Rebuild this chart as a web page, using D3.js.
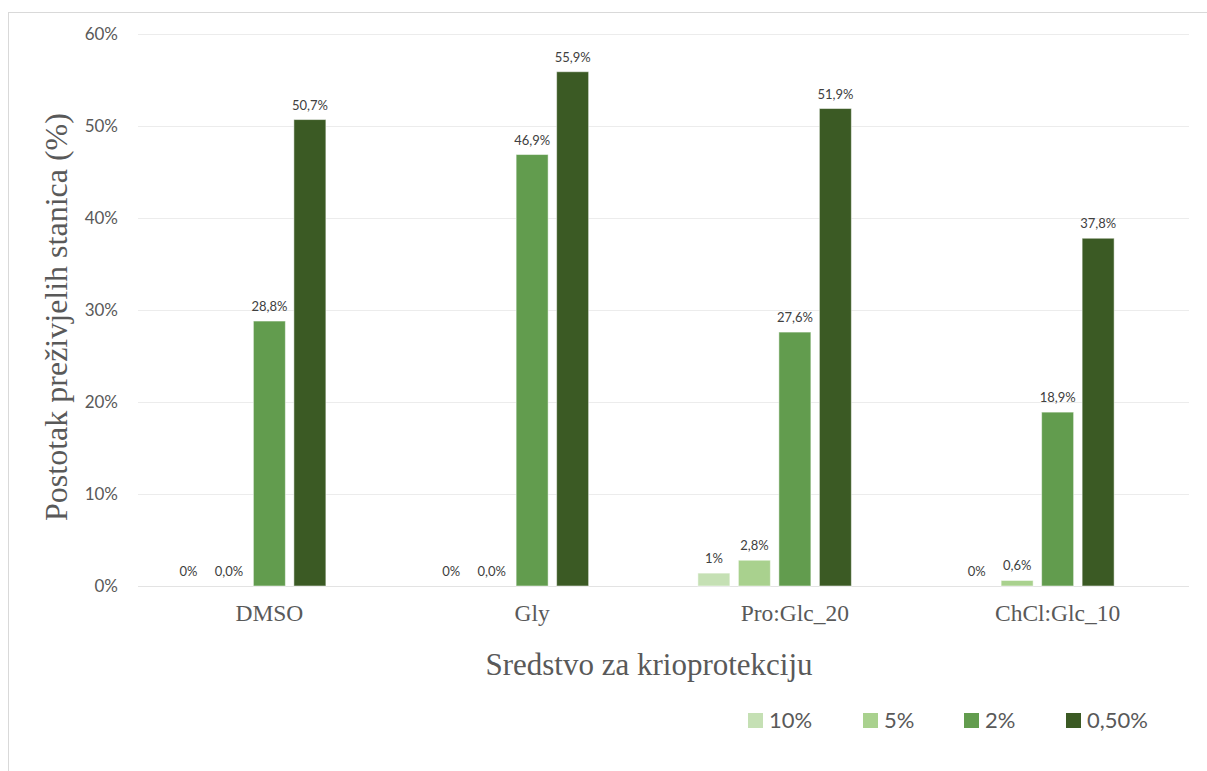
<!DOCTYPE html>
<html>
<head>
<meta charset="utf-8">
<script src="https://cdn.jsdelivr.net/npm/d3@7"></script>
<style>
  body { margin: 0; background: #fff; }
  svg { display: block; }
  .serif { font-family: "Liberation Serif", "Times New Roman", "DejaVu Serif", serif; }
  .sans { font-family: Lato, "Open Sans", sans-serif; }
</style>
</head>
<body>
<svg id="chart" width="1207" height="771"></svg>
<script>
const categories = ["DMSO", "Gly", "Pro:Glc_20", "ChCl:Glc_10"];
const series = ["10%", "5%", "2%", "0,50%"];
const colors = ["#c5e0b4", "#a9d18e", "#629c4e", "#3b5a24"];

const values10 = [0, 0, 1.4, 0];
const values5 = [0, 0, 2.8, 0.6];
const values2 = [28.8, 46.9, 27.6, 18.9];
const values05 = [50.7, 55.9, 51.9, 37.8];

const labels10 = ["0%", "0%", "1%", "0%"];
const labels5 = ["0,0%", "0,0%", "2,8%", "0,6%"];
const labels2 = ["28,8%", "46,9%", "27,6%", "18,9%"];
const labels05 = ["50,7%", "55,9%", "51,9%", "37,8%"];

const yTicks = [0, 10, 20, 30, 40, 50, 60];

const allValues = [values10, values5, values2, values05];
const allLabels = [labels10, labels5, labels2, labels05];

const svg = d3.select("#chart");

// chart frame
svg.append("rect")
  .attr("x", 8.5).attr("y", 12.5)
  .attr("width", 1300).attr("height", 900)
  .attr("fill", "none").attr("stroke", "#d9d9d9");

const plotLeft = 138, plotRight = 1189, plotTop = 34, plotBottom = 586;

const x0 = d3.scaleBand().domain(categories).range([plotLeft, plotRight]);
const y = d3.scaleLinear().domain([0, 60]).range([plotBottom, plotTop]);

// Excel leaves an empty fifth slot, so the 2% bar sits on the category centre
const slots = [...series, "_"];
const half = 101.25;
const x1 = d3.scaleBand().domain(slots)
  .range([x0.bandwidth() / 2 - half, x0.bandwidth() / 2 + half])
  .paddingInner(0.21).paddingOuter(0.105);

// gridlines
svg.append("g")
  .selectAll("line")
  .data(yTicks)
  .join("line")
  .attr("x1", plotLeft).attr("x2", plotRight)
  .attr("y1", d => y(d) + 0.5).attr("y2", d => y(d) + 0.5)
  .attr("stroke", d => d === 0 ? "#e3e3e3" : "#ececec")
  .attr("stroke-width", 1);

// y tick labels
svg.append("g")
  .selectAll("text")
  .data(yTicks)
  .join("text")
  .attr("class", "sans")
  .attr("x", 118)
  .attr("y", d => y(d))
  .attr("dy", "0.35em")
  .attr("text-anchor", "end")
  .attr("font-size", 17)
  .attr("fill", "#595959")
  .text(d => d + "%");

// bars
const rows = categories.map((c, i) => ({
  cat: c,
  items: series.map((s, j) => ({ s, j, v: allValues[j][i], label: allLabels[j][i] }))
}));

const groups = svg.append("g")
  .selectAll("g")
  .data(rows)
  .join("g")
  .attr("transform", d => `translate(${x0(d.cat)},0)`);

groups.selectAll("rect")
  .data(d => d.items.filter(e => e.v > 0))
  .join("rect")
  .attr("x", d => x1(d.s))
  .attr("width", x1.bandwidth())
  .attr("y", d => y(d.v))
  .attr("height", d => y(0) - y(d.v))
  .attr("fill", d => colors[d.j])
  .attr("stroke", "#ffffff")
  .attr("stroke-opacity", 0.5)
  .attr("stroke-width", 1);

groups.selectAll("text")
  .data(d => d.items)
  .join("text")
  .attr("class", "sans")
  .attr("x", d => x1(d.s) + x1.bandwidth() / 2)
  .attr("y", d => y(d.v) - 10)
  .attr("text-anchor", "middle")
  .attr("font-size", 13)
  .attr("fill", "#404040")
  .text(d => d.label);

// category labels
svg.append("g")
  .selectAll("text")
  .data(categories)
  .join("text")
  .attr("class", "serif")
  .attr("x", d => x0(d) + x0.bandwidth() / 2)
  .attr("y", 621)
  .attr("text-anchor", "middle")
  .attr("font-size", 23.5)
  .attr("fill", "#595959")
  .text(d => d);

// axis titles
svg.append("text")
  .attr("class", "serif")
  .attr("x", 649).attr("y", 675)
  .attr("text-anchor", "middle")
  .attr("font-size", 31)
  .attr("fill", "#595959")
  .text("Sredstvo za krioprotekciju");

svg.append("text")
  .attr("class", "serif")
  .attr("transform", "translate(67,317) rotate(-90)")
  .attr("text-anchor", "middle")
  .attr("font-size", 32)
  .attr("fill", "#595959")
  .text("Postotak preživjelih stanica (%)");

// legend
const legendX = [748, 863, 964, 1066];
const legend = svg.append("g")
  .selectAll("g")
  .data(series)
  .join("g")
  .attr("transform", (d, i) => `translate(${legendX[i]},713)`);

legend.append("rect")
  .attr("width", 15).attr("height", 15)
  .attr("fill", (d, i) => colors[i]);

legend.append("text")
  .attr("class", "sans")
  .attr("x", 21).attr("y", 7.5)
  .attr("dy", "0.36em")
  .attr("font-size", 22)
  .attr("fill", "#595959")
  .text(d => d);
</script>
</body>
</html>
